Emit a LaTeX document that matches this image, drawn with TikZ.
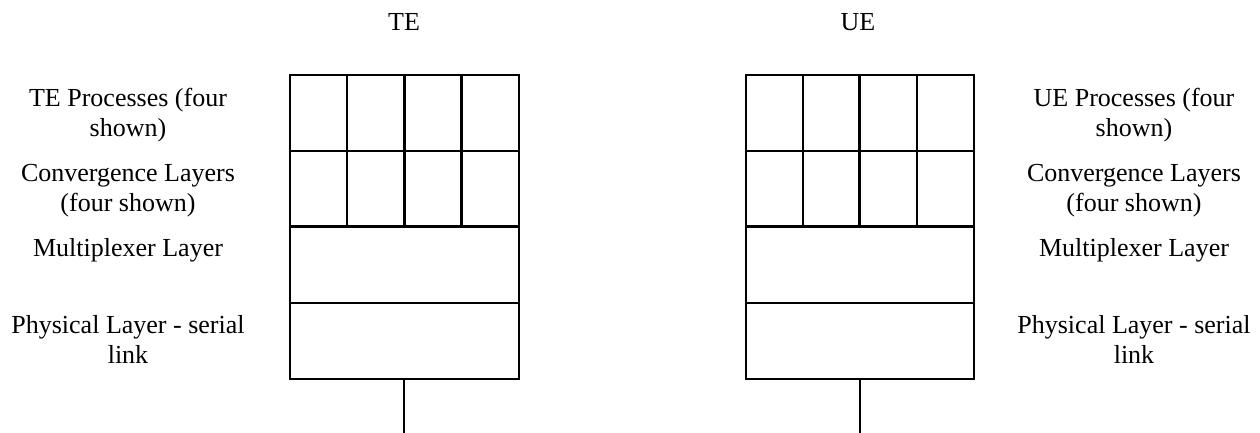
\documentclass[tikz,border=0pt]{standalone}
\usepackage{fontspec}
\setmainfont{Liberation Serif}
\begin{document}
\begin{tikzpicture}[x=0.5pt,y=-0.5pt,
  cell/.style={draw=black,line width=1pt,inner sep=0pt,minimum width=28.6pt,minimum height=37.9pt},
  wide/.style={draw=black,line width=1pt,inner sep=0pt,minimum width=114.3pt,minimum height=38pt},
  lbl/.style={font=\fontsize{13}{15}\selectfont,align=center,anchor=base,inner sep=0pt},
  link/.style={line width=1pt}]
\useasboundingbox (0,0) rectangle (1260,433);
% titles
\node[lbl] (teT) at (404,31) {TE};
\node[lbl] (ueT) at (858,31) {UE};
% left stack
\foreach \i/\x in {1/318.6,2/376,3/433,4/490}{
  \node[cell] (tp\i) at (\x,113) {};
  \node[cell] (tc\i) at (\x,188.5) {};
}
\node[wide] (tm) at (404.3,265) {};
\node[wide] (tph) at (404.3,341) {};
\coordinate (tend) at (404.3,433);
\draw[link] (tph.south) -- (tend);
% right stack
\foreach \i/\x in {1/774.3,2/831.2,3/888,4/945.5}{
  \node[cell] (up\i) at (\x,113) {};
  \node[cell] (uc\i) at (\x,188.5) {};
}
\node[wide] (um) at (860,265) {};
\node[wide] (uph) at (860,341) {};
\coordinate (uend) at (860,433);
\draw[link] (uph.south) -- (uend);
% left labels (base anchor = last line baseline)
\node[lbl] (l1) at (128,136.5) {TE Processes (four\\shown)};
\node[lbl] (l2) at (128,211.5) {Convergence Layers\\(four shown)};
\node[lbl] (l3) at (128,256.5) {Multiplexer Layer};
\node[lbl] (l4) at (128,363) {Physical Layer - serial\\link};
% right labels
\node[lbl] (r1) at (1134,136.5) {UE Processes (four\\shown)};
\node[lbl] (r2) at (1134,211.5) {Convergence Layers\\(four shown)};
\node[lbl] (r3) at (1134,256.5) {Multiplexer Layer};
\node[lbl] (r4) at (1134,363) {Physical Layer - serial\\link};
\end{tikzpicture}
\end{document}
